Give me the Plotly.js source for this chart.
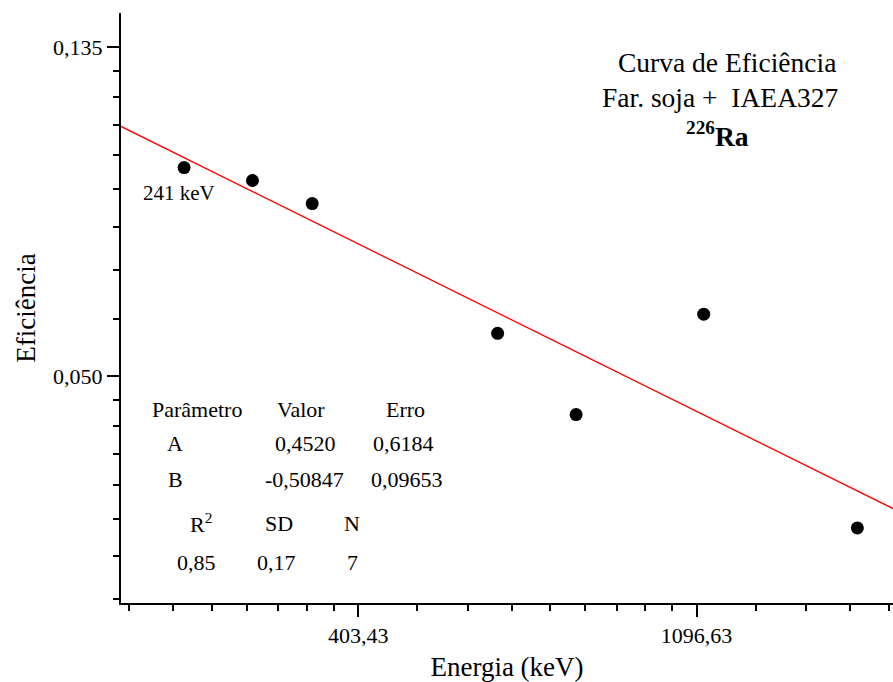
<!DOCTYPE html>
<html>
<head>
<meta charset="utf-8">
<script src="https://cdn.plot.ly/plotly-3.0.1.min.js"></script>
<style>html,body{margin:0;padding:0;background:#fff;}#chart{width:893px;height:682px;}</style>
</head>
<body>
<div id="chart"></div>
<script>
// ---- data ----
const energy = [241, 295, 352, 609, 768, 1120, 1764];           // keV
const efficiency = [0.0938, 0.0902, 0.0841, 0.0567, 0.0443, 0.0601, 0.0314];
const fitEnergy = [200, 1960];                                   // fitted line ends
const fitEfficiency = [0.1063, 0.0333];
const xTickVals = [403.43, 1096.63];
const xTickText = ['403,43', '1096,63'];
const yTickVals = [0.135335, 0.049787];
const yTickText = ['0,135', '0,050'];
const titleLines = ['Curva de Eficiência', 'Far. soja +  IAEA327', '<b><sup>226</sup>Ra</b>'];
const pointLabel = '241 keV';
const tableHeader = ['Parâmetro', 'Valor', 'Erro'];
const rowA = ['A', '0,4520', '0,6184'];
const rowB = ['B', '-0,50847', '0,09653'];
const statsHeader = ['R<sup>2</sup>', 'SD', 'N'];
const statsValues = ['0,85', '0,17', '7'];

// ---- layout helpers ----
const W = 893, H = 682, L = 121, R = 0, T = 13, B = 79;
const pw = W - L - R, ph = H - T - B;
const px = v => (v - L) / pw;
const py = v => (H - B - v) / ph;
const FONT = 'Liberation Serif, Times New Roman, serif';

// minor ticks: 8 linear subdivisions between powers of e (Origin ln scale)
function minorTicks(n0, n1) {
  const out = [];
  for (let n = n0; n < n1; n++) {
    const a = Math.exp(n), b = Math.exp(n + 1);
    for (let k = 1; k < 9; k++) out.push(a + k * (b - a) / 9);
  }
  return out;
}
const xRange = [Math.log10(200), Math.log10(1960)];
const yRange = [Math.log10(0.025), Math.log10(0.15)];

const traces = [
  {x: fitEnergy, y: fitEfficiency, mode: 'lines', line: {color: '#ff0000', width: 1.3}, hoverinfo: 'skip'},
  {x: energy, y: efficiency, mode: 'markers', marker: {color: '#000', size: 13}},
  {x: [], y: [], xaxis: 'x2', yaxis: 'y2', mode: 'markers'}
];

const ann = [];
function txt(t, x, y, size, anchor) {
  ann.push({text: t, xref: 'paper', yref: 'paper', x: px(x), y: py(y), showarrow: false,
    xanchor: anchor || 'center', yanchor: 'middle', font: {family: FONT, size: size, color: '#000'}});
}
txt(titleLines[0], 727, 62, 27.5);
txt(titleLines[1], 720, 98, 27.5);
txt(titleLines[2], 717, 134, 27.5);
txt(pointLabel, 179, 193, 21);
const c1 = [197, 301, 405], c2 = [175, 305, 403], c3 = [175, 304, 407];
tableHeader.forEach((t, i) => txt(t, c1[i], 409, 22));
rowA.forEach((t, i) => txt(t, c2[i], 443, 22));
rowB.forEach((t, i) => txt(t, c3[i], 479, 22));
const c4 = [201, 279, 352], c5 = [196, 276, 352];
statsHeader.forEach((t, i) => txt(t, c4[i], 523, 22));
statsValues.forEach((t, i) => txt(t, c5[i], 562, 22));

const axisCommon = {type: 'log', showgrid: false, zeroline: false, showline: true, linewidth: 2,
  linecolor: '#000', ticks: 'outside', tickwidth: 2, tickcolor: '#000', tickmode: 'array',
  tickfont: {family: FONT, size: 22, color: '#000'}};

const layout = {
  width: W, height: H, margin: {l: L, r: R, t: T, b: B},
  paper_bgcolor: '#fff', plot_bgcolor: '#fff', showlegend: false,
  annotations: ann,
  xaxis: Object.assign({}, axisCommon, {range: xRange, tickvals: xTickVals, ticktext: xTickText, ticklen: 12,
    title: {text: 'Energia (keV)', font: {family: FONT, size: 27, color: '#000'}, standoff: 12}}),
  yaxis: Object.assign({}, axisCommon, {range: yRange, tickvals: yTickVals, ticktext: yTickText, ticklen: 12,
    title: {text: 'Eficiência', font: {family: FONT, size: 27, color: '#000'}, standoff: 10}}),
  xaxis2: Object.assign({}, axisCommon, {overlaying: 'x', anchor: 'y2', side: 'bottom', range: xRange,
    tickvals: minorTicks(5, 8), ticklen: 6, showticklabels: false}),
  yaxis2: Object.assign({}, axisCommon, {overlaying: 'y', anchor: 'x2', side: 'left', range: yRange,
    tickvals: minorTicks(-4, -1), ticklen: 6, showticklabels: false})
};

Plotly.newPlot('chart', traces, layout, {displayModeBar: false, staticPlot: true});
</script>
</body>
</html>
